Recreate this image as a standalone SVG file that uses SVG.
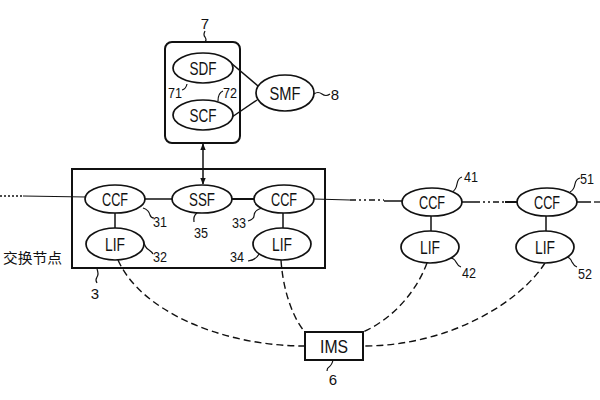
<svg xmlns="http://www.w3.org/2000/svg" width="600" height="400" viewBox="0 0 600 400">
<defs>
<marker id="ah" viewBox="0 0 10 10" refX="9" refY="5" markerWidth="7" markerHeight="7" orient="auto-start-reverse" markerUnits="userSpaceOnUse">
<path d="M0,1 L10,5 L0,9 Z" fill="#111"/>
</marker>
<style>
.box{fill:none;stroke:#111;stroke-width:2}
.ell{fill:#fff;stroke:#111;stroke-width:1.7}
.ln{fill:none;stroke:#111;stroke-width:1.5}
.thin{fill:none;stroke:#111;stroke-width:1.2}
.dash{fill:none;stroke:#111;stroke-width:1.4;stroke-dasharray:7,4}
.dot{fill:none;stroke:#111;stroke-width:1.3;stroke-dasharray:2,2}
.dd{fill:none;stroke:#111;stroke-width:1.3;stroke-dasharray:6,3,2,3,2,3}
.t{font-family:"Liberation Sans",Arial,sans-serif;font-size:19px;fill:#111;text-anchor:middle}
.n{font-family:"Liberation Sans",Arial,sans-serif;font-size:15px;fill:#111;text-anchor:middle}
.cjk{font-family:"Liberation Sans","Noto Sans CJK SC",sans-serif;font-size:14px;fill:#111}
</style>
</defs>
<rect width="600" height="400" fill="#fff"/>

<g id="connectors">
<path class="dot" d="M0,196 L23,196"/>
<path class="thin" d="M23,196 L86,197"/>
<path class="ln" d="M145,199 L172,199"/>
<path class="ln" d="M232,199 L254,199" style="stroke-width:2"/>
<path class="thin" d="M314,199 L350,200"/>
<path class="dd" d="M350,200 L384,200"/>
<path class="ln" d="M384,201 L402,201"/>
<path class="ln" d="M462,202 L474,202"/>
<path class="dd" d="M474,202 L505,202"/>
<path class="ln" d="M505,202 L517,202" style="stroke-width:2"/>
<path class="ln" d="M577,202 L591,202"/>
<path class="dd" d="M594,202 L600,202"/>
<path class="ln" d="M115,213 L115,228"/>
<path class="ln" d="M283,213 L283,228"/>
<path class="ln" d="M431,216 L431,231"/>
<path class="ln" d="M546,216 L546,231"/>
<path class="ln" d="M231,63 L258,86"/>
<path class="ln" d="M232,117 L257,100"/>
<path class="ln" d="M203,144 L203,184" marker-start="url(#ah)" marker-end="url(#ah)"/>
<path class="dash" d="M118,260 C140,310 220,346 305,346"/>
<path class="dash" d="M281,260 C283,292 294,320 305,332"/>
<path class="dash" d="M427,263 C415,295 390,320 363,332"/>
<path class="dash" d="M545,263 C520,302 450,346 363,346"/>
<!-- leaders -->
<path class="thin" d="M205,31 q-2,4 0,6 q2,3 0,5"/>
<path class="thin" d="M182,90 q4,-1 5,-6"/>
<path class="thin" d="M218,101 q0,-8 5,-10"/>
<path class="thin" d="M314,94 q4,-3 8,0 q4,3 8,0"/>
<path class="thin" d="M143,208 q6,2 7,7 q1,3 4,3"/>
<path class="thin" d="M197,213 q-4,3 -3,9"/>
<path class="thin" d="M262,208 q-8,2 -8,8 q0,3 -6,5"/>
<path class="thin" d="M143,240 q2,8 6,10 q3,2 4,4"/>
<path class="thin" d="M260,252 q-3,8 -12,9"/>
<path class="thin" d="M97,269 q2,5 0,8 q-2,3 0,6"/>
<path class="thin" d="M452,192 q4,-2 5,-8 q1,-6 5,-7"/>
<path class="thin" d="M570,192 q4,-2 5,-8 q1,-5 5,-6"/>
<path class="thin" d="M450,258 q4,0 6,4 q2,4 5,5"/>
<path class="thin" d="M566,257 q4,0 6,5 q2,4 5,5"/>
<path class="thin" d="M333,360 q-1,5 -4,7 q-2,1 -2,4"/>
</g>

<g id="node7">
<rect class="box" x="165" y="42" width="75" height="101" rx="7"/>
<text class="n" x="205" y="29">7</text>
<text class="n" x="175" y="98" textLength="14" lengthAdjust="spacingAndGlyphs">71</text>
<text class="n" x="230" y="98" textLength="14" lengthAdjust="spacingAndGlyphs">72</text>
</g>
<g id="SDF">
<ellipse class="ell" cx="203" cy="68" rx="30" ry="15"/>
<text class="t" x="203" y="75" textLength="27" lengthAdjust="spacingAndGlyphs">SDF</text>
</g>
<g id="SCF">
<ellipse class="ell" cx="203" cy="115" rx="30" ry="15"/>
<text class="t" x="203" y="122" textLength="27" lengthAdjust="spacingAndGlyphs">SCF</text>
</g>
<g id="SMF">
<ellipse class="ell" cx="285" cy="93" rx="29" ry="18"/>
<text class="t" x="285" y="100" textLength="31" lengthAdjust="spacingAndGlyphs">SMF</text>
<text class="n" x="335" y="100">8</text>
</g>

<g id="node3">
<rect class="box" x="72" y="169" width="253" height="99"/>
<text class="cjk" x="3" y="263" textLength="59" lengthAdjust="spacingAndGlyphs">交换节点</text>
<text class="n" x="95" y="299">3</text>
</g>
<g id="CCF31">
<ellipse class="ell" cx="115" cy="199" rx="30" ry="14"/>
<text class="t" x="115" y="206" textLength="26" lengthAdjust="spacingAndGlyphs">CCF</text>
<text class="n" x="160" y="227" textLength="14" lengthAdjust="spacingAndGlyphs">31</text>
</g>
<g id="LIF32">
<ellipse class="ell" cx="115" cy="244" rx="29" ry="16"/>
<text class="t" x="115" y="251" textLength="20" lengthAdjust="spacingAndGlyphs">LIF</text>
<text class="n" x="160" y="262" textLength="14" lengthAdjust="spacingAndGlyphs">32</text>
</g>
<g id="SSF35">
<ellipse class="ell" cx="202" cy="199" rx="30" ry="14"/>
<text class="t" x="202" y="206" textLength="26" lengthAdjust="spacingAndGlyphs">SSF</text>
<text class="n" x="201" y="238" textLength="14" lengthAdjust="spacingAndGlyphs">35</text>
</g>
<g id="CCF33">
<ellipse class="ell" cx="284" cy="199" rx="30" ry="14"/>
<text class="t" x="284" y="206" textLength="26" lengthAdjust="spacingAndGlyphs">CCF</text>
<text class="n" x="239" y="228" textLength="14" lengthAdjust="spacingAndGlyphs">33</text>
</g>
<g id="LIF34">
<ellipse class="ell" cx="282" cy="244" rx="29" ry="16"/>
<text class="t" x="282" y="251" textLength="20" lengthAdjust="spacingAndGlyphs">LIF</text>
<text class="n" x="237" y="262" textLength="14" lengthAdjust="spacingAndGlyphs">34</text>
</g>
<g id="CCF41">
<ellipse class="ell" cx="432" cy="202" rx="30" ry="14"/>
<text class="t" x="432" y="209" textLength="26" lengthAdjust="spacingAndGlyphs">CCF</text>
<text class="n" x="471" y="182" textLength="14" lengthAdjust="spacingAndGlyphs">41</text>
</g>
<g id="LIF42">
<ellipse class="ell" cx="430" cy="247" rx="29" ry="16"/>
<text class="t" x="430" y="254" textLength="20" lengthAdjust="spacingAndGlyphs">LIF</text>
<text class="n" x="469" y="278" textLength="14" lengthAdjust="spacingAndGlyphs">42</text>
</g>
<g id="CCF51">
<ellipse class="ell" cx="547" cy="202" rx="30" ry="14"/>
<text class="t" x="547" y="209" textLength="26" lengthAdjust="spacingAndGlyphs">CCF</text>
<text class="n" x="587" y="184" textLength="14" lengthAdjust="spacingAndGlyphs">51</text>
</g>
<g id="LIF52">
<ellipse class="ell" cx="545" cy="247" rx="29" ry="16"/>
<text class="t" x="545" y="254" textLength="20" lengthAdjust="spacingAndGlyphs">LIF</text>
<text class="n" x="585" y="279" textLength="14" lengthAdjust="spacingAndGlyphs">52</text>
</g>
<g id="IMS6">
<rect class="box" x="305" y="332" width="58" height="28" fill="#fff"/>
<text class="t" x="334" y="353" textLength="28" lengthAdjust="spacingAndGlyphs">IMS</text>
<text class="n" x="333" y="385">6</text>
</g>
</svg>
